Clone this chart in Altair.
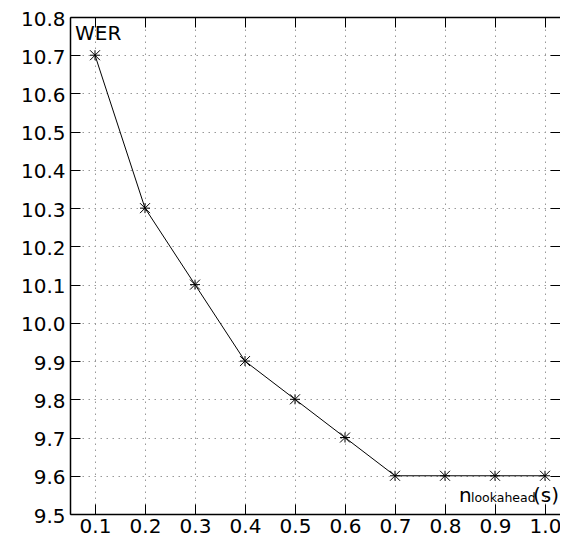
import altair as alt
import pandas as pd

lookahead = [0.1, 0.2, 0.3, 0.4, 0.5, 0.6, 0.7, 0.8, 0.9, 1.0]
wer = [10.7, 10.3, 10.1, 9.9, 9.8, 9.7, 9.6, 9.6, 9.6, 9.6]
x_ticks = [0.1, 0.2, 0.3, 0.4, 0.5, 0.6, 0.7, 0.8, 0.9, 1.0]
y_ticks = [9.5, 9.6, 9.7, 9.8, 9.9, 10.0, 10.1, 10.2, 10.3, 10.4, 10.5, 10.6, 10.7, 10.8]

df = pd.DataFrame({"x": lookahead, "y": wer})

FONT = "DejaVu Sans"
W, H = 490, 497

xs = alt.Scale(domain=[0.05, 1.03], nice=False, zero=False)
ys = alt.Scale(domain=[9.5, 10.8], nice=False, zero=False)

inward = alt.ExprRef(expr="-10")

common_axis = dict(ticks=True, tickSize=inward, tickColor="black", tickWidth=1,
                   domain=True, domainColor="black", domainWidth=1.5,
                   labelFont=FONT, labelFontSize=20, labelColor="black",
                   gridColor="#999999", gridDash=[1.5, 4.5], gridWidth=1, gridOpacity=1)

xaxis = alt.Axis(values=x_ticks, format=".1f", orient="bottom", labelPadding=12, grid=True,
                 title=None, **common_axis)
yaxis = alt.Axis(values=y_ticks, format=".1f", orient="left", labelPadding=15, labelOffset=2,
                 grid=True, title=None, **common_axis)

star = "M-1,0L1,0M0,-1L0,1M-1,-1L1,1M-1,1L1,-1"

line = alt.Chart(df).mark_line(color="black", strokeWidth=1).encode(
    x=alt.X("x:Q", scale=xs, axis=xaxis),
    y=alt.Y("y:Q", scale=ys, axis=yaxis),
)
pts = alt.Chart(df).mark_point(shape=star, size=100, filled=False, color="black",
                               strokeWidth=1, opacity=1).encode(
    x=alt.X("x:Q", scale=xs, axis=None),
    y=alt.Y("y:Q", scale=ys, axis=None),
)

axis2 = dict(ticks=True, tickSize=inward, tickColor="black", tickWidth=1,
             labels=False, grid=False, title=None)
frame = alt.Chart(df).mark_point(opacity=0).encode(
    x=alt.X("x:Q", scale=xs, axis=alt.Axis(values=x_ticks, orient="top", domain=True,
                                            domainColor="black", domainWidth=1.5, **axis2)),
    y=alt.Y("y:Q", scale=ys, axis=alt.Axis(values=y_ticks, orient="right", domain=False, **axis2)),
)

def label(txt, x, y, size):
    return alt.Chart(pd.DataFrame({"t": [txt]})).mark_text(
        font=FONT, fontSize=size, color="black", align="left", baseline="alphabetic"
    ).encode(x=alt.value(x), y=alt.value(y), text="t:N")

wer_lbl = label("WER", 5, 23, 20)
n_lbl = label("n", 389, 485, 20)
sub_lbl = label("lookahead", 401, 485, 12.5)
s_lbl = label("(s)", 463, 485, 20)

chart = alt.layer(line, pts, wer_lbl, n_lbl, sub_lbl, s_lbl, frame).resolve_axis(
    x="independent", y="independent"
).properties(
    width=W, height=H,
    autosize=alt.AutoSizeParams(type="none"),
    padding={"left": 62, "top": 9, "right": 0, "bottom": 29},
).configure_view(stroke=None).configure(background="white")

chart.save("out.html", embed_options={"renderer": "svg", "actions": False})
